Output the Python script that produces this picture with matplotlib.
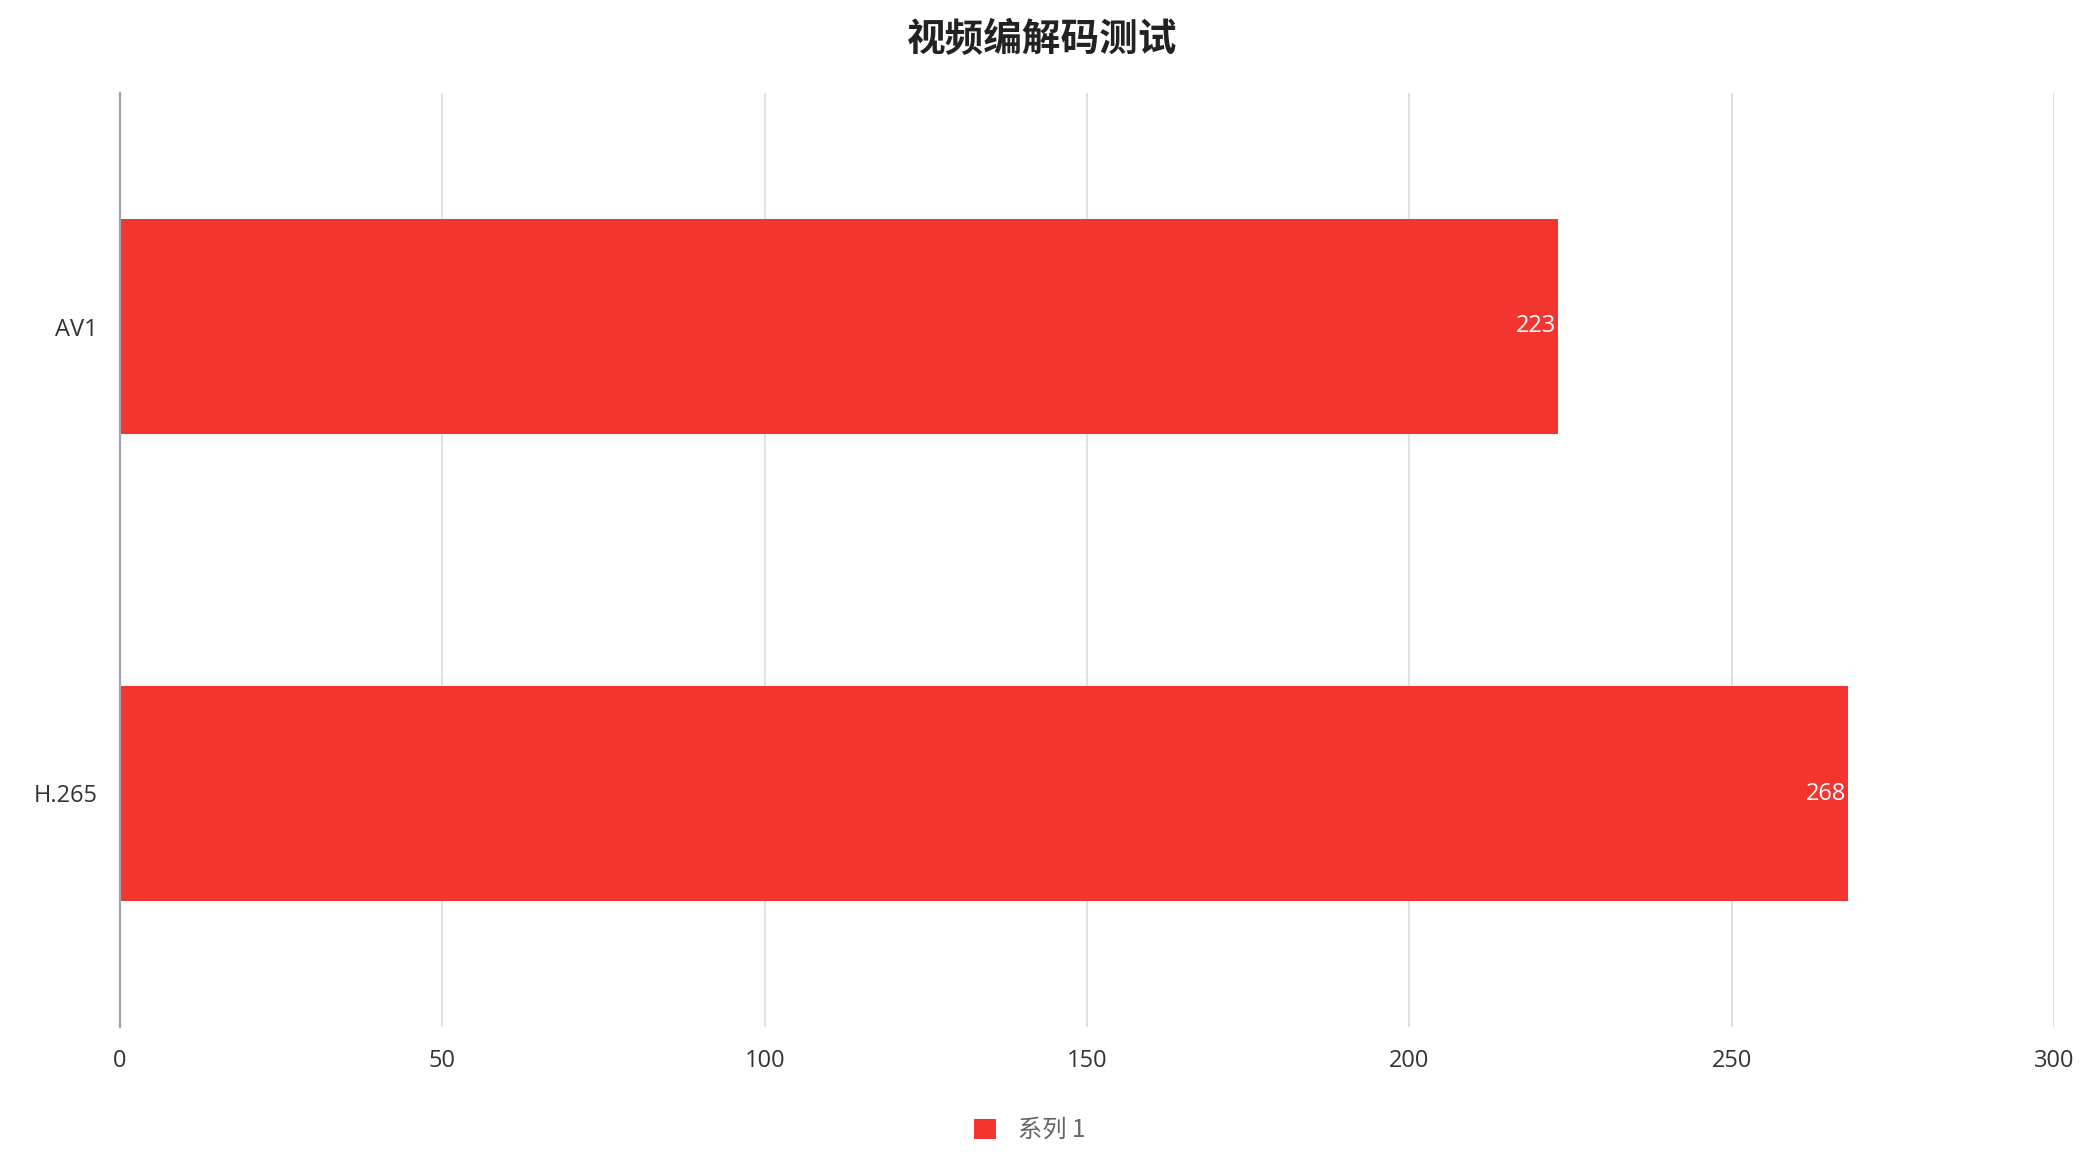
import matplotlib
matplotlib.use("Agg")
import matplotlib.pyplot as plt

categories = ["AV1", "H.265"]
values = [223, 268]
series_name = "系列 1"
title = "视频编解码测试"
xticks = [0, 50, 100, 150, 200, 250, 300]

plt.rcParams['font.family'] = ['Open Sans', 'Noto Sans CJK SC', 'DejaVu Sans']

BAR = "#F2352F"
TXT = "#333333"

fig = plt.figure(figsize=(20.85, 11.67), dpi=100)
ax = fig.add_axes([120/2085, 1-1027/1167, (2054-120)/2085, (1027-93)/1167])

ypos = list(range(len(categories)))
bars = ax.barh(ypos, values, height=0.46, color=BAR, label=series_name, zorder=3)
ax.set_ylim(len(categories)-0.5, -0.5)
ax.set_xlim(0, 300)
ax.set_xticks(xticks)
ax.set_xticklabels([str(t) for t in xticks])
ax.set_yticks(ypos)
ax.set_yticklabels(categories)

ax.tick_params(axis='both', length=0, labelsize=17, colors=TXT, pad=16)
ax.grid(axis='x', color="#dcdcdc", linewidth=1.2, zorder=0)
ax.grid(axis='y', visible=False)
for s in ['top', 'right', 'bottom']:
    ax.spines[s].set_visible(False)
ax.spines['left'].set_color("#a0a5ae")
ax.spines['left'].set_linewidth(1.6)
ax.spines['left'].set_zorder(4)

for b, v in zip(bars, values):
    ax.annotate(str(v), xy=(b.get_width(), b.get_y() + b.get_height()/2),
                xytext=(-1, 0), textcoords='offset points',
                ha='right', va='center', color='white', fontsize=17, zorder=5)

fig.text(0.5, 1-40/1167, title, ha='center', va='center', fontsize=27.8,
         fontweight='bold', color="#222222",
         family=['Noto Sans CJK SC', 'DejaVu Sans'])

leg = fig.legend(handles=[bars], labels=[series_name], loc='center',
                 bbox_to_anchor=(1030/2085, 1-1130/1167), frameon=False,
                 handlelength=0.9, handleheight=0.9, handletextpad=0.9,
                 prop={'family': ['Noto Sans CJK SC', 'DejaVu Sans'], 'size': 17.5})
for t in leg.get_texts():
    t.set_color("#666666")

fig.savefig("out.png", dpi=100, facecolor='white')
